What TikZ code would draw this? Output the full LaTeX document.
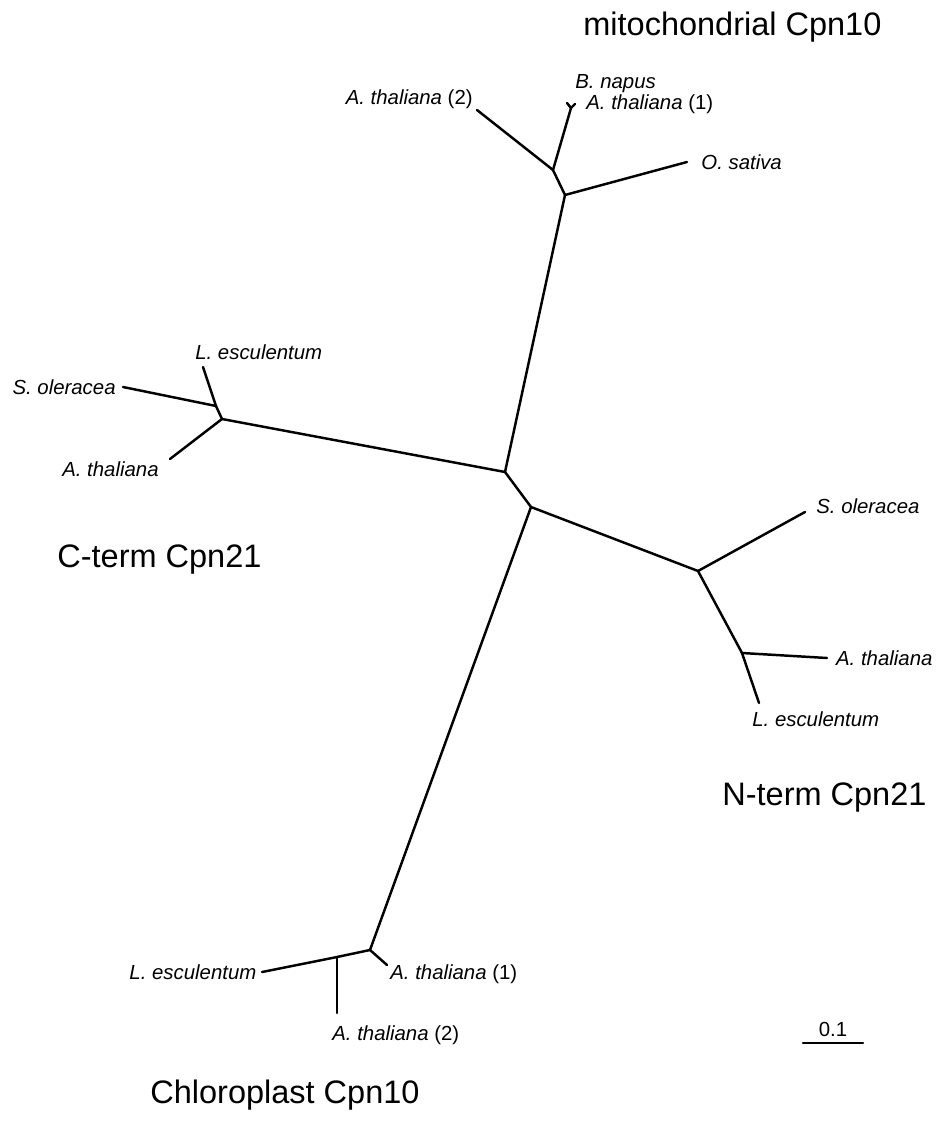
\documentclass[tikz,border=0pt]{standalone}
\usepackage{fontspec}
\setmainfont{Liberation Sans}
\usetikzlibrary{positioning}

\begin{document}
\begin{tikzpicture}[x=0.02cm, y=-0.02cm]
\tikzset{% one unit = one pixel of the original figure
  branch/.style={draw, line width=1.4pt, line cap=round, line join=round},
  taxon/.style={inner sep=0pt, font=\fontsize{11.6}{14}\selectfont\itshape},
  clade/.style={inner sep=0pt, font=\fontsize{18.5}{22}\selectfont},
}
\useasboundingbox (0,0) rectangle (951,1128);

% inner branch points
\coordinate (CenterUp) at (505,472);
\coordinate (CenterDown) at (531,507);
\coordinate (MitoBase) at (565,195);
\coordinate (MitoInner) at (553,170);
\coordinate (MitoFork) at (571,108);
\coordinate (CTermNode) at (222,419);
\coordinate (CTermInner) at (216,406);
\coordinate (NTermNode) at (698,571);
\coordinate (NTermInner) at (742,653);
\coordinate (ChloroNode) at (370,950);
\coordinate (ChloroInner) at (337,957);

% tips
\coordinate (TipMitoAt2) at (477,110);
\coordinate (TipBnapus) at (567,103);
\coordinate (TipMitoAt1) at (575,104);
\coordinate (TipOsativa) at (687,162);
\coordinate (TipCTermSol) at (123,387);
\coordinate (TipCTermLes) at (203,367);
\coordinate (TipCTermAth) at (170,459);
\coordinate (TipNTermSol) at (805,512);
\coordinate (TipNTermAth) at (827,658);
\coordinate (TipNTermLes) at (759,703);
\coordinate (TipChloroLes) at (262,972);
\coordinate (TipChloroAt1) at (387,965);
\coordinate (TipChloroAt2) at (337,1013);

\coordinate (ScaleLeft) at (803,1043);
\coordinate (ScaleRight) at (863,1043);

% branches
\draw[branch] (CenterUp) -- (CenterDown);
\draw[branch] (CenterUp) -- (MitoBase);
\draw[branch] (CenterUp) -- (CTermNode);
\draw[branch] (CenterDown) -- (NTermNode);
\draw[branch] (CenterDown) -- (ChloroNode);

\draw[branch] (MitoBase) -- (MitoInner);
\draw[branch] (MitoBase) -- (TipOsativa);
\draw[branch] (MitoInner) -- (TipMitoAt2);
\draw[branch] (MitoInner) -- (MitoFork);
\draw[branch] (MitoFork) -- (TipBnapus);
\draw[branch] (MitoFork) -- (TipMitoAt1);

\draw[branch] (CTermNode) -- (TipCTermAth);
\draw[branch] (CTermNode) -- (CTermInner);
\draw[branch] (CTermInner) -- (TipCTermLes);
\draw[branch] (CTermInner) -- (TipCTermSol);

\draw[branch] (NTermNode) -- (TipNTermSol);
\draw[branch] (NTermNode) -- (NTermInner);
\draw[branch] (NTermInner) -- (TipNTermAth);
\draw[branch] (NTermInner) -- (TipNTermLes);

\draw[branch] (ChloroNode) -- (TipChloroAt1);
\draw[branch] (ChloroNode) -- (ChloroInner);
\draw[branch] (ChloroInner) -- (TipChloroLes);
\draw[branch] (ChloroInner) -- (TipChloroAt2);

% taxon labels
\node[taxon, anchor=east] (LabMitoAt2) at (473,99) {A. thaliana \upshape(2)};
\node[taxon, anchor=west] (LabBnapus) at (575,84) {B. napus};
\node[taxon, anchor=west] (LabMitoAt1) at (586,104) {A. thaliana \upshape(1)};
\node[taxon, right=8pt of TipOsativa] (LabOsativa) {O. sativa};

\node[taxon, left=4pt of TipCTermSol] (LabCTermSol) {S. oleracea};
\node[taxon, anchor=west] (LabCTermLes) at (195,352) {L. esculentum};
\node[taxon, anchor=east] (LabCTermAth) at (159,469) {A. thaliana};

\node[taxon, anchor=west] (LabNTermSol) at (816,506) {S. oleracea};
\node[taxon, right=5pt of TipNTermAth] (LabNTermAth) {A. thaliana};
\node[taxon, anchor=north west] (LabNTermLes) at (752,711) {L. esculentum};

\node[taxon, left=3pt of TipChloroLes] (LabChloroLes) {L. esculentum};
\node[taxon, anchor=west] (LabChloroAt1) at (390,974) {A. thaliana \upshape(1)};
\node[taxon, anchor=west] (LabChloroAt2) at (332,1035) {A. thaliana \upshape(2)};

% clade names
\node[clade, anchor=base west] (Mito) at (583,36) {mitochondrial Cpn10};
\node[clade, anchor=base west] (CTerm) at (57,567) {C-term Cpn21};
\node[clade, anchor=base west] (NTerm) at (722,805) {N-term Cpn21};
\node[clade, anchor=base west] (Chloro) at (150,1103) {Chloroplast Cpn10};

% scale bar
\draw[branch] (ScaleLeft) -- (ScaleRight)
  node[midway, above=3pt, taxon, font=\fontsize{11.6}{14}\selectfont] (ScaleText) {0.1};
\end{tikzpicture}
\end{document}
